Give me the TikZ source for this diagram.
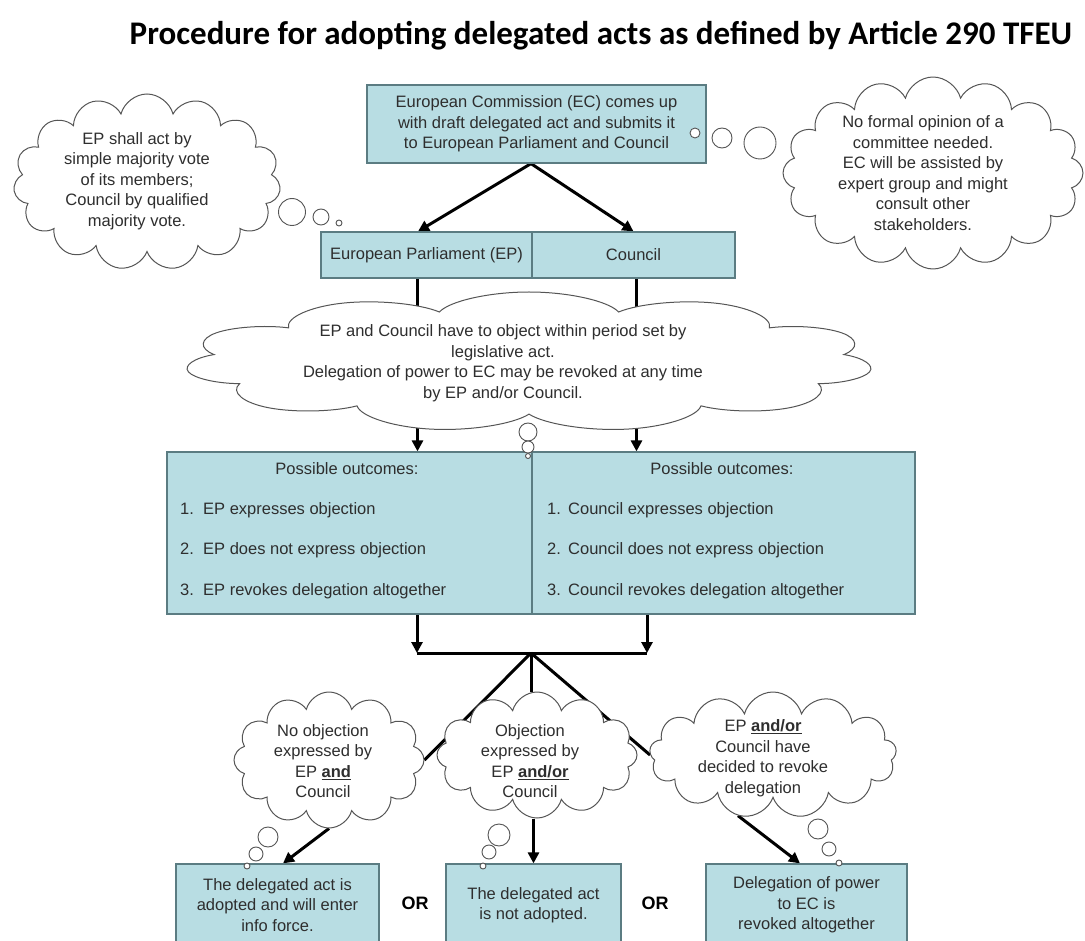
\documentclass[tikz,border=0pt]{standalone}
\usepackage{fontspec}
\setmainfont{Liberation Sans}
\newfontfamily\titlefont{Carlito}
\usepackage{xcolor}
\usetikzlibrary{shapes.symbols,arrows.meta,backgrounds}

\definecolor{boxfill}{HTML}{B8DDE3}
\definecolor{boxline}{HTML}{5B7C82}
\definecolor{cloudline}{HTML}{555555}
\definecolor{textgray}{HTML}{2E2E2E}
\newcommand\bodytxt{\fontsize{16.5}{20.5}\selectfont}

\tikzset{
  box/.style={draw=boxline, fill=boxfill, line width=1.2pt, inner sep=0pt,
    font=\bodytxt, text=textgray, align=center},
  thought/.style={cloud, cloud puffs=14, cloud ignores aspect, draw=cloudline,
    fill=white, line width=1pt, inner sep=0pt},
  txt/.style={font=\bodytxt, text=textgray, align=center, inner sep=0pt},
  item/.style={font=\bodytxt, text=textgray, anchor=west, inner sep=0pt},
  bubble/.style={draw=cloudline, fill=white, line width=0.9pt},
  link/.style={line width=3pt},
  conn/.style={line width=3pt, -{Triangle[length=11pt,width=11pt]}},
}

\begin{document}
\begin{tikzpicture}[x=1pt,y=-1pt]
\useasboundingbox (0,0) rectangle (1085,941);

% Title
\node[font=\titlefont\bfseries\fontsize{33}{38}\selectfont] (title) at (601,36)
  {Procedure for adopting delegated acts as defined by Article 290 TFEU};

% Boxes
\node[box, minimum width=339pt, minimum height=78pt] (EC) at (536.5,124)
  {European Commission (EC) comes up\\with draft delegated act and submits it\\to European Parliament and Council};
\node[box, minimum width=211pt, minimum height=46pt] (EP) at (426.5,255) {European Parliament (EP)};
\node[box, minimum width=203pt, minimum height=46pt] (Council) at (633.5,255) {Council};

\node[box, minimum width=365pt, minimum height=162pt] (outEP) at (349.5,533) {};
\node[box, minimum width=383pt, minimum height=162pt] (outCo) at (723.5,533) {};

\node[box, minimum width=203pt, minimum height=82pt] (resA) at (277.5,905)
  {The delegated act is\\adopted and will enter\\info force.};
\node[box, minimum width=175pt, minimum height=82pt] (resB) at (533.5,905)
  {The delegated act\\is not adopted.};
\node[box, minimum width=201pt, minimum height=82pt] (resC) at (806.5,905)
  {Delegation of power\\to EC is\\revoked altogether};

% Outcome lists
\node[txt] (posEP) at (347,469) {Possible outcomes:};
\node[item] (ep1) at (180,510) {\makebox[23pt][l]{1.}EP expresses objection};
\node[item] (ep2) at (180,550) {\makebox[23pt][l]{2.}EP does not express objection};
\node[item] (ep3) at (180,591) {\makebox[23pt][l]{3.}EP revokes delegation altogether};
\node[txt] (posCo) at (722,469) {Possible outcomes:};
\node[item] (co1) at (547,510) {\makebox[21pt][l]{1.}Council expresses objection};
\node[item] (co2) at (547,550) {\makebox[21pt][l]{2.}Council does not express objection};
\node[item] (co3) at (547,591) {\makebox[21pt][l]{3.}Council revokes delegation altogether};

% Clouds
\node[thought, cloud puffs=15, minimum width=267pt, minimum height=176pt] (cEP) at (147,182) {};
\node[txt] (cEPt) at (137,181)
  {EP shall act by\\simple majority vote\\of its members;\\Council by qualified\\majority vote.};
\node[thought, cloud puffs=16, minimum width=300pt, minimum height=192pt] (cEC) at (933,173) {};
\node[txt] (cECt) at (923,173)
  {No formal opinion of a\\committee needed.\\EC will be assisted by\\expert group and might\\consult other\\stakeholders.};
\begin{scope}[shift={(529,362)}, xscale=3.44]
  \node[thought, transform shape, cloud puffs=11, minimum width=200pt, minimum height=140pt] (cObj) at (0,0) {};
\end{scope}
\node[txt] (cObjt) at (503,363)
  {EP and Council have to object within period set by\\legislative act.\\Delegation of power to EC may be revoked at any time\\by EP and/or Council.};
\node[thought, cloud puffs=12, minimum width=190pt, minimum height=136pt] (cNo) at (329,760) {};
\node[txt] (cNot) at (323,761)
  {No objection\\expressed by\\EP \underline{\textbf{and}}\\Council};
\node[thought, cloud puffs=12, minimum width=200pt, minimum height=126pt] (cObjEx) at (537,755) {};
\node[txt] (cObjExt) at (530,761)
  {Objection\\expressed by\\EP \underline{\textbf{and/or}}\\Council};
\node[thought, cloud puffs=13, minimum width=247pt, minimum height=126pt] (cRev) at (773,755) {};
\node[txt] (cRevt) at (763,758)
  {EP \underline{\textbf{and/or}}\\Council have\\decided to revoke\\delegation};

% OR labels
\node[font=\bfseries\fontsize{18}{20}\selectfont] (or1) at (415,903) {OR};
\node[font=\bfseries\fontsize{18}{20}\selectfont] (or2) at (655,903) {OR};

% Thought bubbles
\draw[bubble] (292,212) circle (13.5);
\draw[bubble] (321,217) circle (8);
\draw[bubble] (339,223) circle (3);
\draw[bubble] (695,133) circle (5);
\draw[bubble] (722,138) circle (10);
\draw[bubble] (760,143) circle (16);
\draw[bubble] (528,432) circle (9);
\draw[bubble] (528,447) circle (6);
\draw[bubble] (528,456) circle (2.5);
\draw[bubble] (268,837) circle (10);
\draw[bubble] (256,854) circle (7);
\draw[bubble] (247,866) circle (3);
\draw[bubble] (499,835) circle (11);
\draw[bubble] (489,852) circle (7);
\draw[bubble] (483,866) circle (3);
\draw[bubble] (818,829) circle (10);
\draw[bubble] (829,849) circle (7);
\draw[bubble] (839,863) circle (3);

% Connectors
\coordinate (barL) at (417,653);
\coordinate (barR) at (647,653);
\coordinate (hub) at (531,653);
\begin{scope}[on background layer]
  \draw[conn] ([xshift=-5.5pt]EC.south) -- ([xshift=-8.5pt]EP.north);
  \draw[conn] ([xshift=-5.5pt]EC.south) -- (Council.north);
  \draw[conn] ([xshift=-9pt]EP.south) -- ([xshift=-9pt]EP.south |- outEP.north);
  \draw[conn] ([xshift=3pt]Council.south) -- ([xshift=3pt]Council.south |- outCo.north);
  \draw[conn] (outEP.south -| barL) -- (barL);
  \draw[conn] (outCo.south -| barR) -- (barR);
  \draw[link] (barL) -- (barR);
  \draw[link] (hub) -- (cNo.east);
  \draw[link] (hub) -- (hub |- cObjEx.north);
  \draw[link] (hub) -- (cRev.west);
  \draw[conn] (cNo.south) -- ([xshift=5.5pt]resA.north);
  \draw[conn] (resB.north |- cObjEx.south) -- (resB.north);
  \draw[conn] (cRev.240) -- ([xshift=-6.5pt]resC.north);
\end{scope}

\end{tikzpicture}
\end{document}
